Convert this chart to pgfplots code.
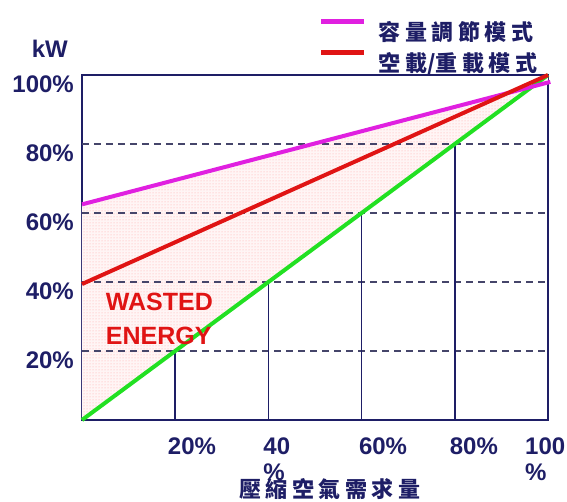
\documentclass[border=0pt]{standalone}
\usepackage{fontspec}
\setmainfont{Liberation Sans}
\newfontfamily\cjk{Noto Sans CJK TC}
\usepackage{pgfplots}
\pgfplotsset{compat=1.18}
\usetikzlibrary{patterns}
\definecolor{navy}{HTML}{1E1E66}
\definecolor{gridc}{HTML}{45456A}
\definecolor{mag}{HTML}{E020E0}
\definecolor{lred}{HTML}{E01414}
\definecolor{lgreen}{HTML}{22E022}
\newcommand\cs{\hspace{4.5pt}}
\begin{document}
\begin{tikzpicture}
\begin{axis}[
  scale only axis, width=466pt, height=345pt,
  xmin=0, xmax=100, ymin=0, ymax=100,
  axis line style={navy, line width=1.6pt},
  major tick length=0pt,
  ytick={20,40,60,80,100},
  yticklabels={20\%,40\%,60\%,80\%,100\%},
  yticklabel style={font=\fontsize{24}{26}\selectfont\bfseries, text=navy, inner sep=0pt, anchor=east, xshift=-8pt, yshift=-9pt},
  xtick={23.6,41.8,64.6,84.1,99.4},
  xticklabels={20\%,{40\\\%},60\%,80\%,{100\\\%}},
  xticklabel style={font=\fontsize{24}{26}\selectfont\bfseries, text=navy, inner sep=0pt, anchor=north, align=left, yshift=-18pt},
  xlabel={壓\cs 縮\cs 空\cs 氣\cs 需\cs 求\cs 量},
  xlabel style={at={(axis description cs:0.532,0)}, anchor=north, yshift=-58pt, font=\cjk\bfseries\fontsize{22}{24}\selectfont, text=navy, inner sep=0pt},
  clip=false,
  legend style={at={(axis description cs:0.508,1.163)}, anchor=north west, draw=none, fill=none,
    font=\cjk\bfseries\fontsize{22}{24}\selectfont, text=navy, row sep=6pt, inner sep=0pt},
  legend image code/.code={\draw[#1, line width=5pt] (0pt,10pt) -- (43pt,10pt);},
  legend cell align=left,
]
\addplot[draw=none, fill=red!4, postaction={pattern=dots, pattern color=red!35}, forget plot]
  coordinates {(0,62.5) (100,98) (100,100) (0,0)} -- cycle;
\addplot[gridc, line width=1.6pt, dash pattern=on 7pt off 5pt, forget plot] coordinates {(0,20) (100,20)};
\addplot[gridc, line width=1.6pt, dash pattern=on 7pt off 5pt, forget plot] coordinates {(0,40) (100,40)};
\addplot[gridc, line width=1.6pt, dash pattern=on 7pt off 5pt, forget plot] coordinates {(0,60) (100,60)};
\addplot[gridc, line width=1.6pt, dash pattern=on 7pt off 5pt, forget plot] coordinates {(0,80) (100,80)};
\addplot[navy, line width=1.6pt, forget plot] coordinates {(20,0) (20,20)};
\addplot[navy, line width=1.6pt, forget plot] coordinates {(40,0) (40,40)};
\addplot[navy, line width=1.6pt, forget plot] coordinates {(60,0) (60,60)};
\addplot[navy, line width=1.6pt, forget plot] coordinates {(80,0) (80,80)};
\addplot[lgreen, line width=4pt, forget plot] coordinates {(0,0) (100,100)};
\addplot[mag, line width=4pt] coordinates {(0,62.5) (100.5,98)};
\addlegendentry{\hspace{10pt}容\cs 量\cs 調\cs 節\cs 模\cs 式}
\addplot[lred, line width=4pt] coordinates {(0,39.4) (100,100)};
\addlegendentry{\hspace{10pt}空\cs 載/重\cs 載\cs 模\cs 式}
\node[font=\fontsize{24}{26}\selectfont\bfseries, text=navy] at (axis description cs:-0.069,1.075) {kW};
\node[anchor=west, align=left, text=lred, font=\fontsize{25}{34}\selectfont\bfseries, inner sep=0pt] at (axis cs:5.1,29.2) {WASTED\\ENERGY};
\end{axis}
\pgfresetboundingbox
\path[use as bounding box] ([shift={(-82pt,-82pt)}]current axis.south west) rectangle ([shift={(485pt,420pt)}]current axis.south west);
\end{tikzpicture}
\end{document}
